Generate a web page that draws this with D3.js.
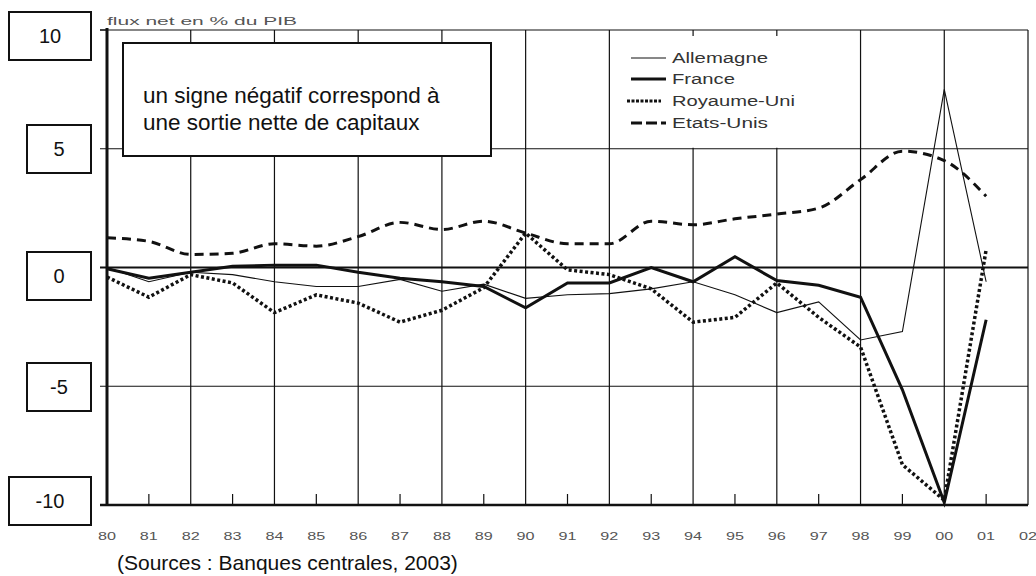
<!DOCTYPE html>
<html>
<head>
<meta charset="utf-8">
<script src="https://cdn.jsdelivr.net/npm/d3@7"></script>
<style>
	body { margin: 0; background: #fff; }
	svg { display: block; font-family: Arial, "Liberation Sans", sans-serif; }
</style>
</head>
<body>
<script>
// years shown on the axis, 1980 to 2002
const yearLabels = ["80","81","82","83","84","85","86","87","88","89","90","91","92","93","94","95","96","97","98","99","00","01","02"];

// net flows in % of GDP, 1980 to 2001
const allemagne = [0, -0.6, -0.2, -0.3, -0.6, -0.8, -0.8, -0.5, -1.0, -0.7, -1.3, -1.15, -1.1, -0.9, -0.6, -1.15, -1.9, -1.45, -3.05, -2.7, 7.5, -0.6];
const france = [-0.05, -0.45, -0.2, 0.05, 0.1, 0.1, -0.2, -0.45, -0.6, -0.8, -1.7, -0.65, -0.65, 0, -0.6, 0.45, -0.55, -0.75, -1.25, -5.15, -9.9, -2.2];
const royaumeUni = [-0.4, -1.25, -0.3, -0.65, -1.9, -1.15, -1.5, -2.3, -1.8, -0.85, 1.45, -0.1, -0.3, -0.9, -2.3, -2.1, -0.65, -2.1, -3.35, -8.3, -9.8, 0.75];
const etatsUnis = [1.25, 1.1, 0.55, 0.6, 1.0, 0.9, 1.3, 1.9, 1.6, 1.95, 1.45, 1.0, 1.0, 1.95, 1.8, 2.05, 2.25, 2.5, 3.7, 4.9, 4.5, 3.0];

const yTicks = [10, 5, 0, -5, -10];
const seriesNames = ["Allemagne", "France", "Royaume-Uni", "Etats-Unis"];

const width = 1036, height = 576;

const svg = d3.select("body")
	.append("svg")
	.attr("width", width)
	.attr("height", height);

const x = d3.scaleLinear().domain([0, 22]).range([107, 1028]);
const y = d3.scaleLinear().domain([-10, 10]).range([505, 30]);

// grid: horizontal
svg.append("g")
	.selectAll("line")
	.data(yTicks.filter(v => v !== 0 && v !== -10))
	.join("line")
	.attr("x1", 100).attr("x2", x(22))
	.attr("y1", d => y(d)).attr("y2", d => y(d))
	.attr("stroke", "#111").attr("stroke-width", 1.2);

// grid: vertical every 2 years
svg.append("g")
	.selectAll("line")
	.data(d3.range(2, 23, 2))
	.join("line")
	.attr("x1", d => x(d)).attr("x2", d => x(d))
	.attr("y1", y(10)).attr("y2", y(-10))
	.attr("stroke", "#111").attr("stroke-width", 1.2);

// minor ticks at odd years
svg.append("g")
	.selectAll("line")
	.data(d3.range(1, 23, 2))
	.join("line")
	.attr("x1", d => x(d)).attr("x2", d => x(d))
	.attr("y1", y(-10)).attr("y2", y(-10) - 11)
	.attr("stroke", "#111").attr("stroke-width", 1.2);

// white panel behind the legend (hides grid)
svg.append("rect")
	.attr("x", x(12) + 2).attr("y", y(10) + 6)
	.attr("width", x(18) - x(12) - 4).attr("height", y(5) - y(10) - 7)
	.attr("fill", "#fff");

// zero line, bottom axis, left axis
svg.append("line")
	.attr("x1", 100).attr("x2", x(22))
	.attr("y1", y(0)).attr("y2", y(0))
	.attr("stroke", "#111").attr("stroke-width", 2.2);

svg.append("line")
	.attr("x1", 100).attr("x2", x(22))
	.attr("y1", y(-10)).attr("y2", y(-10))
	.attr("stroke", "#111").attr("stroke-width", 2.5);

svg.append("line")
	.attr("x1", x(0)).attr("x2", x(0))
	.attr("y1", y(10) - 2).attr("y2", y(-10) + 1)
	.attr("stroke", "#111").attr("stroke-width", 3);

svg.append("line")
	.attr("x1", 100).attr("x2", x(0))
	.attr("y1", y(10)).attr("y2", y(10))
	.attr("stroke", "#111").attr("stroke-width", 1.2);

// x labels
svg.append("g")
	.selectAll("text")
	.data(yearLabels)
	.join("text")
	.attr("x", (d, i) => x(i) - 9)
	.attr("y", 540)
	.attr("font-size", 11)
	.attr("fill", "#555")
	.attr("textLength", 18)
	.attr("lengthAdjust", "spacingAndGlyphs")
	.text(d => d);

// y labels in boxes
const boxes = svg.append("g")
	.selectAll("g")
	.data(yTicks)
	.join("g");

boxes.append("rect")
	.attr("x", d => Math.abs(d) === 10 ? 9 : 27)
	.attr("y", (d, i) => [12, 125, 252, 363, 477][i])
	.attr("width", d => Math.abs(d) === 10 ? 82 : 64)
	.attr("height", 48)
	.attr("fill", "#fff")
	.attr("stroke", "#111")
	.attr("stroke-width", 2);

boxes.append("text")
	.attr("x", d => Math.abs(d) === 10 ? 50 : 59)
	.attr("y", (d, i) => [12, 125, 252, 363, 477][i] + 31)
	.attr("text-anchor", "middle")
	.attr("font-size", 20)
	.attr("fill", "#111")
	.text(d => d);

// unit
svg.append("text")
	.attr("x", 107).attr("y", 25)
	.attr("font-size", 11)
	.attr("fill", "#555")
	.attr("textLength", 190)
	.attr("lengthAdjust", "spacingAndGlyphs")
	.text("flux net en % du PIB");

// annotation box
svg.append("rect")
	.attr("x", 123).attr("y", 43)
	.attr("width", 368).attr("height", 113)
	.attr("fill", "#fff")
	.attr("stroke", "#111")
	.attr("stroke-width", 2);

svg.append("text")
	.attr("x", 143).attr("y", 103)
	.attr("font-size", 22.5)
	.attr("fill", "#111")
	.text("un signe négatif correspond à");

svg.append("text")
	.attr("x", 143).attr("y", 130)
	.attr("font-size", 22.5)
	.attr("fill", "#111")
	.text("une sortie nette de capitaux");

// series
const styles = [
	{ data: allemagne, w: 1.1, dash: null, curve: d3.curveLinear },
	{ data: france, w: 3, dash: null, curve: d3.curveLinear },
	{ data: royaumeUni, w: 3.5, dash: "3,2.5", curve: d3.curveLinear },
	{ data: etatsUnis, w: 3, dash: "9,6", curve: d3.curveMonotoneX }
];

styles.forEach(s => {
	const line = d3.line()
		.x((d, i) => x(i))
		.y(d => y(d))
		.curve(s.curve);
	svg.append("path")
		.attr("d", line(s.data))
		.attr("fill", "none")
		.attr("stroke", "#111")
		.attr("stroke-width", s.w)
		.attr("stroke-dasharray", s.dash);
});

// legend
const legend = svg.append("g")
	.selectAll("g")
	.data(seriesNames)
	.join("g")
	.attr("transform", (d, i) => "translate(631," + [58, 79, 101, 123][i] + ")");

legend.append("line")
	.attr("x1", (d, i) => i === 2 ? -4 : 0)
	.attr("x2", (d, i) => i === 2 ? 30 : 35)
	.attr("stroke", "#111")
	.attr("stroke-width", (d, i) => styles[i].w === 1.1 ? 1 : 3)
	.attr("stroke-dasharray", (d, i) => styles[i].dash === null ? null : (i === 2 ? "3,1.5" : "11,4"));

legend.append("text")
	.attr("x", 41)
	.attr("y", 5)
	.attr("font-size", 14)
	.attr("fill", "#333")
	.attr("textLength", (d, i) => [96, 63, 123, 96][i])
	.attr("lengthAdjust", "spacingAndGlyphs")
	.text(d => d);

// source
svg.append("text")
	.attr("x", 117).attr("y", 570)
	.attr("font-size", 21)
	.attr("fill", "#111")
	.text("(Sources : Banques centrales, 2003)");
</script>
</body>
</html>
